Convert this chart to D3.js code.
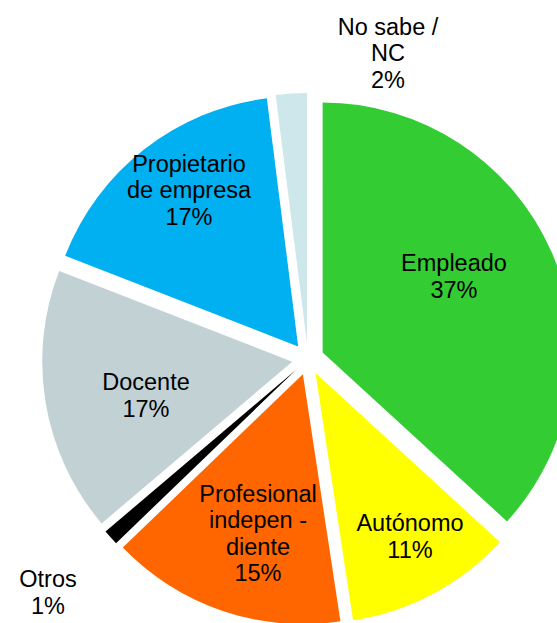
<!DOCTYPE html>
<html>
<head>
<meta charset="utf-8">
<script src="https://cdn.jsdelivr.net/npm/d3@7"></script>
<style>
  html, body { margin: 0; padding: 0; background: #fff; }
  svg { display: block; }
  .lbl { font-family: "Liberation Sans", Arial, sans-serif; font-size: 23.5px; fill: #000; }
</style>
</head>
<body>
<div id="chartArea"></div>
<script>
// categories, clockwise from 12 o'clock
var categories = ["Empleado", "Autónomo", "Profesional independiente", "Otros", "Docente", "Propietario de empresa", "No sabe / NC"];
var values = [36.8, 10.8, 15.2, 1.0, 17.1, 17.1, 2.0];
var labelLines = [
    ["Empleado"],
    ["Autónomo"],
    ["Profesional", "indepen -", "diente"],
    ["Otros"],
    ["Docente"],
    ["Propietario", "de empresa"],
    ["No sabe /", "NC"]
];
var colors = ["#33cc33", "#ffff00", "#ff6600", "#000000", "#c1d1d4", "#00b0f0", "#cde7eb"];

var width = 557, height = 623;
var cx = 308, cy = 359, radius = 250, explode = 16;

// label block centres, relative to the pie centre
var labelOffsets = {
    "Empleado": [146, -83],
    "Autónomo": [102, 177],
    "Profesional independiente": [-50, 174],
    "Otros": [-260, 233],
    "Docente": [-162, 36],
    "Propietario de empresa": [-119, -169],
    "No sabe / NC": [80, -306]
};

var rows = categories.map(function(c, i){
    return {
        id: c,
        value: values[i],
        lines: labelLines[i].concat([Math.round(values[i]) + "%"]),
        color: colors[i]
    };
});

var pie = d3.pie()
    .sort(null)
    .value(function(d){ return d.value; });

var arc = d3.arc()
    .innerRadius(0)
    .outerRadius(radius);

var svg = d3.select("#chartArea").append("svg")
    .attr("width", width)
    .attr("height", height);

var g = svg.append("g")
    .attr("transform", "translate(" + cx + "," + cy + ")");

var slices = pie(rows);

// exploded slices, pushed out along their bisector
g.selectAll(".slice")
    .data(slices)
    .enter().append("path")
    .attr("class", "slice")
    .attr("d", arc)
    .attr("transform", function(d){
        var a = (d.startAngle + d.endAngle) / 2;
        return "translate(" + (Math.sin(a) * explode) + "," + (-Math.cos(a) * explode) + ")";
    })
    .style("fill", function(d){ return d.data.color; });

// labels
var lineH = 26.5;
g.selectAll(".lbl")
    .data(slices)
    .enter().append("text")
    .attr("class", "lbl")
    .attr("text-anchor", "middle")
    .each(function(d){
        var t = d3.select(this);
        var off = labelOffsets[d.data.id];
        var n = d.data.lines.length;
        d.data.lines.forEach(function(line, i){
            t.append("tspan")
                .attr("x", off[0])
                .attr("y", off[1] + (i - (n - 1) / 2) * lineH)
                .attr("dy", "0.36em")
                .text(line);
        });
    });
</script>
</body>
</html>
